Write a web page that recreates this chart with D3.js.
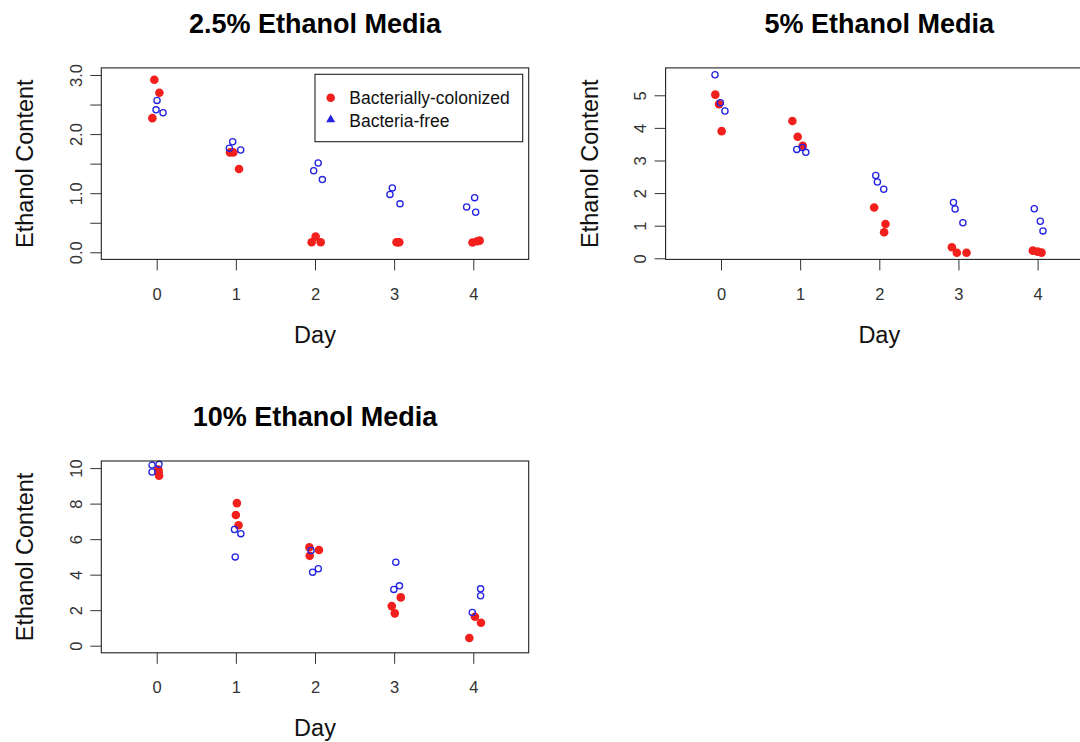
<!DOCTYPE html>
<html>
<head>
<meta charset="utf-8">
<script src="https://cdn.jsdelivr.net/npm/d3@7"></script>
<style>
  html, body { margin: 0; padding: 0; background: #fff; }
  svg { display: block; font-family: "Liberation Sans", Arial, Helvetica, sans-serif; }
</style>
</head>
<body>
<svg id="chart" width="1080" height="742"></svg>
<script>
// ---------------- DATA ----------------
const days = [0, 1, 2, 3, 4];
const seriesNames = ["Bacterially-colonized", "Bacteria-free"];
const panelTitles = ["2.5% Ethanol Media", "5% Ethanol Media", "10% Ethanol Media"];
const xAxisTitle = "Day";
const yAxisTitle = "Ethanol Content";

// [jittered day, ethanol content]
const eth25Colonized = [
  [-0.03, 2.92], [0.034, 2.70], [-0.055, 2.27],
  [0.926, 1.69], [0.968, 1.69], [1.04, 1.41],
  [1.958, 0.17], [2.008, 0.265], [2.072, 0.17],
  [3.03, 0.17], [3.05, 0.17], [3.065, 0.17],
  [3.99, 0.165], [4.05, 0.186], [4.08, 0.197]
];
const eth25Free = [
  [0.004, 2.57], [-0.008, 2.41], [0.08, 2.36],
  [0.96, 1.87], [0.918, 1.76], [1.061, 1.73],
  [2.04, 1.51], [1.983, 1.38], [2.093, 1.23],
  [2.977, 1.09], [2.947, 0.98], [3.074, 0.82],
  [4.017, 0.925], [3.916, 0.767], [4.03, 0.677]
];
const eth5Colonized = [
  [-0.072, 5.02], [-0.025, 4.73], [0.008, 3.90],
  [0.902, 4.21], [0.969, 3.73], [1.033, 3.45],
  [1.935, 1.56], [2.078, 1.05], [2.061, 0.80],
  [2.917, 0.34], [2.98, 0.17], [3.102, 0.17],
  [3.94, 0.235], [4.0, 0.205], [4.05, 0.175]
];
const eth5Free = [
  [-0.076, 5.63], [-0.008, 4.77], [0.05, 4.52],
  [0.957, 3.34], [1.028, 3.40], [1.071, 3.25],
  [1.955, 2.54], [1.976, 2.34], [2.056, 2.12],
  [2.937, 1.71], [2.958, 1.51], [3.056, 1.09],
  [3.958, 1.52], [4.034, 1.135], [4.068, 0.84]
];
const eth10Colonized = [
  [0.02, 9.92], [0.025, 9.78], [0.03, 9.57],
  [1.013, 8.03], [1.0, 7.36], [1.034, 6.78],
  [1.929, 5.54], [1.933, 5.06], [2.05, 5.39],
  [2.97, 2.23], [3.008, 1.82], [3.084, 2.72],
  [4.021, 1.63], [4.097, 1.29], [3.95, 0.43]
];
const eth10Free = [
  [-0.059, 10.17], [0.029, 10.21], [-0.059, 9.78],
  [0.983, 6.54], [1.063, 6.31], [0.992, 5.0],
  [1.95, 5.36], [1.97, 4.14], [2.042, 4.33],
  [3.021, 4.7], [2.996, 3.17], [3.067, 3.37],
  [4.092, 3.2], [4.092, 2.81], [3.987, 1.87]
];

const yTicks25 = [0, 0.5, 1, 1.5, 2, 2.5, 3];
const yLabels25 = ["0.0", "", "1.0", "", "2.0", "", "3.0"];
const yTicks5 = [0, 1, 2, 3, 4, 5];
const yLabels5 = ["0", "1", "2", "3", "4", "5"];
const yTicks10 = [0, 2, 4, 6, 8, 10];
const yLabels10 = ["0", "2", "4", "6", "8", "10"];

// ---------------- LAYOUT ----------------
const svg = d3.select("#chart");
const RED = "#f2201c";
const BLUE = "#2222e0";
const FONT_TICK = 16.5;
const FONT_LAB = 23.5;
const FONT_TITLE = 27;

const panels = [
  { title: panelTitles[0], left: 101.3, top: 67.9, w: 427.4, h: 191.5, ydom: [-0.12, 3.12],
    yt: yTicks25, yl: yLabels25, col: eth25Colonized, free: eth25Free, legend: true },
  { title: panelTitles[1], left: 665.6, top: 67.9, w: 427.4, h: 191.5, ydom: [-0.034, 5.84],
    yt: yTicks5, yl: yLabels5, col: eth5Colonized, free: eth5Free, legend: false },
  { title: panelTitles[2], left: 101.3, top: 461.0, w: 427.4, h: 191.8, ydom: [-0.4, 10.4],
    yt: yTicks10, yl: yLabels10, col: eth10Colonized, free: eth10Free, legend: false }
];

panels.forEach(p => {
  const g = svg.append("g").attr("transform", `translate(${p.left},${p.top})`);
  const x = d3.scaleLinear().domain([-0.7, 4.7]).range([0, p.w]);
  const y = d3.scaleLinear().domain(p.ydom).range([p.h, 0]);

  // x axis
  const xa = g.append("g").attr("transform", `translate(0,${p.h})`)
    .call(d3.axisBottom(x).tickValues(days).tickFormat(d3.format("d")).tickSizeOuter(0).tickSizeInner(11).tickPadding(0));
  xa.select(".domain").remove();
  xa.selectAll(".tick line").attr("stroke", "#333").attr("stroke-width", 1);
  xa.selectAll(".tick text").attr("y", 40.6).attr("dy", null)
    .attr("font-size", FONT_TICK).attr("fill", "#333").attr("font-family", null);

  // y axis
  const ya = g.append("g")
    .call(d3.axisLeft(y).tickValues(p.yt).tickFormat((d, i) => p.yl[i]).tickSizeOuter(0).tickSizeInner(11).tickPadding(0));
  ya.select(".domain").remove();
  ya.selectAll(".tick line").attr("stroke", "#333").attr("stroke-width", 1);
  ya.selectAll(".tick text")
    .attr("x", null).attr("dy", null)
    .attr("transform", "translate(-19.3,0) rotate(-90)")
    .attr("text-anchor", "middle")
    .attr("font-size", FONT_TICK).attr("fill", "#333").attr("font-family", null);

  // axis titles
  g.append("text").attr("x", p.w / 2).attr("y", p.h + 83.3)
    .attr("text-anchor", "middle").attr("font-size", FONT_LAB).attr("fill", "#111").text(xAxisTitle);
  g.append("text").attr("transform", `translate(-68,${p.h / 2}) rotate(-90)`)
    .attr("text-anchor", "middle").attr("font-size", FONT_LAB).attr("fill", "#111").text(yAxisTitle);

  // title
  g.append("text").attr("x", p.w / 2).attr("y", 33.3 - 67.9)
    .attr("text-anchor", "middle").attr("font-size", FONT_TITLE).attr("font-weight", "bold")
    .attr("fill", "#000").text(p.title);

  // points
  g.selectAll("circle.col").data(p.col).join("circle").attr("class", "col")
    .attr("cx", d => x(d[0])).attr("cy", d => y(d[1])).attr("r", 4.3).attr("fill", RED);
  g.selectAll("circle.free").data(p.free).join("circle").attr("class", "free")
    .attr("cx", d => x(d[0])).attr("cy", d => y(d[1])).attr("r", 3.1)
    .attr("fill", "none").attr("stroke", BLUE).attr("stroke-width", 1.3);

  // frame
  g.append("rect").attr("x", 0).attr("y", 0).attr("width", p.w).attr("height", p.h)
    .attr("fill", "none").attr("stroke", "#222").attr("stroke-width", 1.1);

  if (p.legend) {
    const lg = g.append("g").attr("transform", `translate(${p.w - 6 - 207.7},6.4)`);
    lg.append("rect").attr("x", 0).attr("y", 0).attr("width", 207.7).attr("height", 67.4)
      .attr("fill", "#fff").attr("stroke", "#222").attr("stroke-width", 1.1);
    lg.append("circle").attr("cx", 15.7).attr("cy", 23.4).attr("r", 4.3).attr("fill", RED);
    const tri = d3.symbol().type(d3.symbolTriangle).size(36);
    lg.append("path").attr("d", tri()).attr("transform", "translate(15.7,45.4)").attr("fill", BLUE);
    lg.selectAll("text.leg").data(seriesNames).join("text").attr("class", "leg")
      .attr("x", 34.3).attr("y", (d, i) => 30 + i * 22.4)
      .attr("font-size", 17.5).attr("fill", "#111").text(d => d);
  }
});
</script>
</body>
</html>
